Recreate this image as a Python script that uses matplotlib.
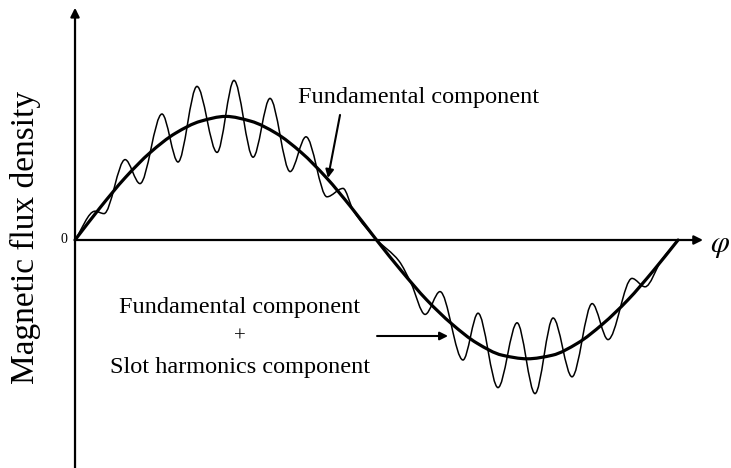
import numpy as np
import matplotlib
matplotlib.use("Agg")
import matplotlib.pyplot as plt
from matplotlib.path import Path
from matplotlib.patches import PathPatch

# ---- data (phase in degrees, flux density relative) ----
fund_phase = [0, 15, 30, 45, 60, 75, 90, 105, 120, 135, 150, 165, 180,
              195, 210, 225, 240, 255, 270, 285, 300, 315, 330, 345, 360]
fund_b = [0, 0.27, 0.52, 0.73, 0.89, 0.99, 1.03, 0.99, 0.89, 0.73, 0.52, 0.27, 0,
          -0.26, -0.50, -0.70, -0.86, -0.96, -0.99, -0.96, -0.86, -0.70, -0.50, -0.26, 0]

ripple_phase = [0, 11.9, 17.3, 29.9, 38.8, 51.9, 61.5, 72.8, 84.8, 94.9, 106.3,
                116.4, 128.4, 137.9, 150.4, 160.0, 166.0, 180.3, 193.4, 200.6,
                209.0, 217.9, 231.6, 240.6, 252.5, 263.9, 274.6, 285.4, 296.7,
                308.7, 318.2, 332.5, 340.3, 350.0, 360]
ripple_b = [0, 0.24, 0.22, 0.67, 0.47, 1.05, 0.65, 1.28, 0.73, 1.33, 0.69,
            1.18, 0.57, 0.86, 0.36, 0.43, 0.25, 0, -0.175, -0.36,
            -0.62, -0.43, -1.00, -0.61, -1.23, -0.69, -1.28, -0.65, -1.14,
            -0.53, -0.83, -0.32, -0.39, -0.17, 0]

label_fund = "Fundamental component"
label_sum_lines = ["Fundamental component", "+", "Slot harmonics component"]
y_label = "Magnetic flux density"
x_symbol = r"$\varphi$"
zero_label = "0"

plt.rcParams["font.family"] = ["Liberation Serif", "DejaVu Serif"]
plt.rcParams["mathtext.fontset"] = "stix"


def smooth_path(x, y):
    """Smooth monotone Bezier curve through the read points."""
    x = np.asarray(x, float)
    y = np.asarray(y, float)
    h = np.diff(x)
    d = np.diff(y) / h
    n = len(x)
    m = np.zeros(n)
    m[0] = d[0]
    m[-1] = d[-1]
    for k in range(1, n - 1):
        if d[k - 1] * d[k] <= 0:
            m[k] = 0.0
        else:
            w1 = 2 * h[k] + h[k - 1]
            w2 = h[k] + 2 * h[k - 1]
            m[k] = (w1 + w2) / (w1 / d[k - 1] + w2 / d[k])
    verts = [(x[0], y[0])]
    codes = [Path.MOVETO]
    for k in range(n - 1):
        verts += [(x[k] + h[k] / 3, y[k] + m[k] * h[k] / 3),
                  (x[k + 1] - h[k] / 3, y[k + 1] - m[k + 1] * h[k] / 3),
                  (x[k + 1], y[k + 1])]
        codes += [Path.CURVE4] * 3
    return Path(verts, codes)


fig = plt.figure(figsize=(7.31, 4.68), dpi=100)
ax = fig.add_axes([0, 0, 1, 1])
ax.set_xlim(-44.78, 391.6)
ax.set_ylim(-1.9, 2.0)
ax.axis("off")

# axes with arrows
ax.annotate("", xy=(0, 1.935), xytext=(0, -1.95),
            arrowprops=dict(arrowstyle="-|>", lw=1.6, color="black",
                            mutation_scale=13, shrinkA=0, shrinkB=0))
ax.annotate("", xy=(374.9, 0), xytext=(0, 0),
            arrowprops=dict(arrowstyle="-|>", lw=1.6, color="black",
                            mutation_scale=13, shrinkA=0, shrinkB=0))

# curves
ax.add_patch(PathPatch(smooth_path(ripple_phase, ripple_b), fill=False,
                       lw=1.1, edgecolor="black", capstyle="round"))
ax.add_patch(PathPatch(smooth_path(fund_phase, fund_b), fill=False,
                       lw=2.3, edgecolor="black", capstyle="round"))

# texts
ax.text(133.1, 1.142, label_fund, fontsize=17.5, ha="left", va="baseline")
ax.annotate("", xy=(151.0, 0.517), xytext=(158.2, 1.042),
            arrowprops=dict(arrowstyle="-|>", lw=1.5, color="black",
                            mutation_scale=12, shrinkA=0, shrinkB=0))

ax.text(98.5, -0.608, label_sum_lines[0], fontsize=17.5, ha="center", va="baseline")
ax.text(98.5, -0.808, label_sum_lines[1], fontsize=15, ha="center", va="center")
ax.text(98.5, -1.108, label_sum_lines[2], fontsize=17.5, ha="center", va="baseline")
ax.annotate("", xy=(222.7, -0.8), xytext=(180.3, -0.8),
            arrowprops=dict(arrowstyle="-|>", lw=1.5, color="black",
                            mutation_scale=12, shrinkA=0, shrinkB=0))

ax.text(-6.6, 0.0, zero_label, fontsize=10, ha="center", va="center")
ax.text(379.1, -0.05, x_symbol, fontsize=22, ha="left", va="center")
ax.text(-29.85, 0.025, y_label, fontsize=24, rotation=90, ha="center", va="center")

fig.savefig("out.png", dpi=100)
